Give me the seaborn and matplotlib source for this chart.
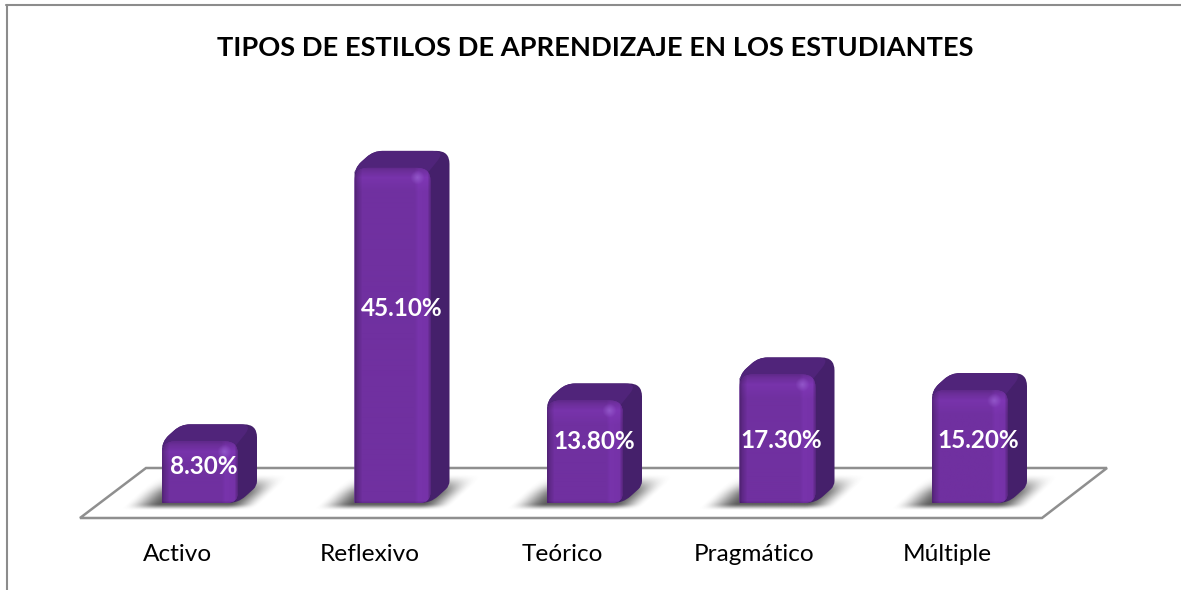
import numpy as np
import pandas as pd
import seaborn as sns
import matplotlib
matplotlib.use('Agg')
import matplotlib.pyplot as plt
from matplotlib.colors import to_rgb
from matplotlib.lines import Line2D
from matplotlib.patches import PathPatch, Polygon
from matplotlib.path import Path
from matplotlib.transforms import IdentityTransform

# datos
estilos = ['Activo', 'Reflexivo', 'Teórico', 'Pragmático', 'Múltiple']
porcentajes = [8.3, 45.1, 13.8, 17.3, 15.2]
titulo = 'TIPOS DE ESTILOS DE APRENDIZAJE EN LOS ESTUDIANTES'

# ajuste fino de las etiquetas respecto al centro de cada barra (px)
etiqueta_dx = [4, 9, 9, 4, 8]
etiqueta_dy = [6, 27, 10, -2, 6]

W, H = 1181, 590
PASO = 192.5      # px entre categorias
X0 = 200          # px del centro de la primera barra
Y0 = 503          # px de la base de las barras
ESCALA = 7.43     # px por punto porcentual
PISO = 518        # borde delantero del piso
PROF_X, PROF_Y = 19, 17
MORADO = '#7030A0'

sns.set_theme(style='white')
plt.rcParams['font.family'] = ['Lato', 'DejaVu Sans']


def px(x, y):
    return (x, H - y)


def redondeado(puntos, radios):
    """Poligono con esquinas redondeadas, en coordenadas de pantalla."""
    n = len(puntos)
    verts, codes = [], []
    for i in range(n):
        p = np.array(puntos[i], float)
        ant = np.array(puntos[i - 1], float)
        sig = np.array(puntos[(i + 1) % n], float)
        a = p + (ant - p) / np.linalg.norm(ant - p) * radios[i]
        b = p + (sig - p) / np.linalg.norm(sig - p) * radios[i]
        verts += [a, p, b]
        codes += [Path.MOVETO if i == 0 else Path.LINETO, Path.CURVE3, Path.CURVE3]
    verts.append(verts[0])
    codes.append(Path.CLOSEPOLY)
    return Path(verts, codes)


def relleno_frente(ancho, alto):
    """Sombreado del frente de la barra: borde oscuro, bisel claro arriba y a la derecha."""
    nx, ny = max(int(ancho), 2), max(int(alto), 2)
    xs = np.arange(nx)
    ys = np.arange(ny)
    base = np.array(to_rgb(MORADO))
    fx = np.interp(xs, [0, 2, 7, nx - 17, nx - 13, nx - 4, nx - 1], [0.74, 0.84, 1, 1, 1.07, 1.05, 0.8])
    fy = np.interp(ys, [0, 3, 10, 24, ny - 3, ny - 1], [0.86, 0.95, 1.07, 1.0, 1.0, 0.9])
    img = np.clip(base[None, None, :] * (fx[None, :] * fy[:, None])[:, :, None], 0, 1)
    # brillo de la esquina superior derecha
    gx, gy = np.meshgrid(xs, ys)
    d = np.hypot(gx - (nx - 14), gy - 10)
    brillo = np.clip(1 - d / 7, 0, 1)[:, :, None]
    return img * (1 - brillo) + np.array(to_rgb('#9156C8')) * brillo


def rampa(v, a, b):
    t = np.clip((v - a) / (b - a), 0, 1)
    return t * t * (3 - 2 * t)


def sombra_rgba(x0, x1, y0):
    """Sombra difusa, inclinada como el piso, en pixeles de pantalla."""
    xs = np.arange(x0 - 50, x1 + 80)
    ys = np.arange(y0 - 10, y0 + 36)
    gx, gy = np.meshgrid(xs, ys)
    u = gx - 1.1 * (gy - y0)
    a = rampa(u, x0 - 36, x0 + 2) * (1 - rampa(u, x1 - 8, x1 + 24))
    a = a * rampa(gy, y0 - 8, y0 - 1) * (1 - rampa(gy, y0 + 8, y0 + 29))
    rgba = np.zeros(a.shape + (4,))
    rgba[..., :3] = to_rgb('#404040')
    rgba[..., 3] = a * 0.85
    return rgba, (xs[0], xs[-1] + 1, ys[0], ys[-1] + 1)


df = pd.DataFrame({'estilo': estilos, 'porcentaje': porcentajes})

fig = plt.figure(figsize=(W / 100, H / 100), dpi=100, facecolor='white')
ax = fig.add_axes([0, 1 - PISO / H, 1, PISO / H])
sns.barplot(data=df, x='estilo', y='porcentaje', color=MORADO, saturation=1,
            width=76 / PASO, ax=ax, zorder=3)
ax.set_xlim(-X0 / PASO, (W - X0) / PASO)
ax.set_ylim((Y0 - PISO) / ESCALA, Y0 / ESCALA)
ax.set_xlabel('')
ax.set_ylabel('')
ax.set_yticks([])
sns.despine(ax=ax, left=True, bottom=True)
# las etiquetas van centradas en el piso, no en el frente de la barra
ax.set_xticks(np.arange(len(estilos)) - 23 / PASO, estilos)
ax.tick_params(axis='x', length=0, pad=18.5, labelsize=17.6, labelcolor='black')

idt = IdentityTransform()

# piso
piso = Polygon([px(80, PISO), px(1042, PISO), px(1107, 468), px(146, 468)], closed=True,
               facecolor='white', edgecolor='#8f8f8f', linewidth=1.8, transform=idt,
               zorder=1, clip_on=False)
ax.add_patch(piso)

fig.canvas.draw()
inv = ax.transData.inverted()

for barra, val, dx, dy in zip(list(ax.patches)[:len(estilos)], porcentajes, etiqueta_dx, etiqueta_dy):
    (x0, y0), (x1, y1) = ax.transData.transform(
        [(barra.get_x(), 0), (barra.get_x() + barra.get_width(), val)])

    # sombra difusa sobre el piso
    rgba, (sx0, sx1, sy0, sy1) = sombra_rgba(x0, x1, y0)
    (dx0, dy0), (dx1, dy1) = inv.transform([(sx0, sy0), (sx1, sy1)])
    ax.imshow(rgba, extent=(dx0, dx1, dy0, dy1), origin='lower', aspect='auto', zorder=2,
              interpolation='bilinear')

    # silueta completa: cara lateral oscura
    silueta = redondeado([(x0, y0), (x0, y1), (x0 + PROF_X, y1 + PROF_Y), (x1 + PROF_X, y1 + PROF_Y),
                          (x1 + PROF_X, y0 + PROF_Y), (x1, y0)], [1, 9, 9, 13, 5, 10])
    ax.add_patch(PathPatch(silueta, facecolor='#45206B', edgecolor='none', transform=idt, zorder=3.1))

    # cara superior
    tapa = redondeado([(x0, y1 - 4), (x0, y1), (x0 + PROF_X, y1 + PROF_Y), (x1 + PROF_X - 4, y1 + PROF_Y),
                       (x1 - 2, y1 - 4)], [1, 9, 9, 13, 1])
    ax.add_patch(PathPatch(tapa, facecolor='#50247A', edgecolor='none', transform=idt, zorder=3.2))

    # frente con sombreado, sobre la barra de seaborn
    frente = redondeado([(x0, y0), (x0, y1), (x1, y1), (x1, y0)], [1, 13, 13, 11])
    barra.set_visible(False)
    clip = PathPatch(frente, facecolor=MORADO, edgecolor='none', transform=idt, zorder=3.3)
    ax.add_patch(clip)
    xd0, xd1 = barra.get_x(), barra.get_x() + barra.get_width()
    im = ax.imshow(relleno_frente(x1 - x0, y1 - y0), extent=(xd0, xd1, 0, val), origin='upper',
                   aspect='auto', zorder=3.4, interpolation='bilinear')
    im.set_clip_path(clip)

    ax.annotate(f'{val:.2f}%', (barra.get_x() + barra.get_width() / 2, val / 2),
                xytext=(dx, dy), textcoords='offset pixels',
                ha='center', va='center', color='white', fontsize=17.5, fontweight='bold', zorder=5)

ax.set_xlim(-X0 / PASO, (W - X0) / PASO)
ax.set_ylim((Y0 - PISO) / ESCALA, Y0 / ESCALA)

fig.text(595.5 / W, 1 - 47.5 / H, titulo, ha='center', va='center', fontsize=19.65,
         fontweight='bold', color='black')

# marco del grafico (solo izquierda y arriba quedan dentro de la imagen)
for xs, ys in [((7, 7), (5, H)), ((6, 1181), (5, 5))]:
    fig.add_artist(Line2D([x / W for x in xs], [1 - y / H for y in ys], color='#8c8c8c', linewidth=1.5))

fig.savefig('out.png', dpi=100, facecolor='white')
